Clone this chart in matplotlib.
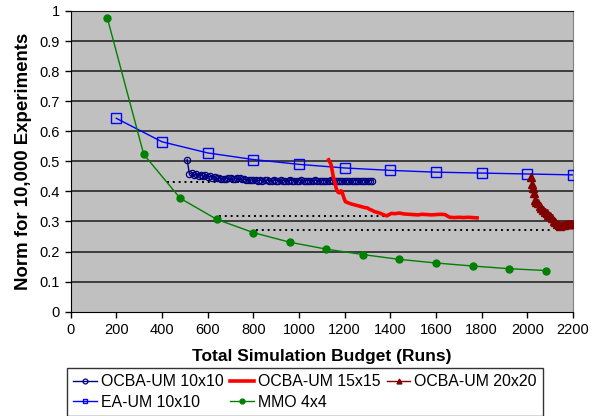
import numpy as np
import matplotlib.pyplot as plt

plt.rcParams['font.family'] = ['Liberation Sans', 'DejaVu Sans']

# OCBA-UM 10x10
ocba10_x = np.arange(510, 1330, 10)
ocba10_y = [
0.506, 0.458, 0.462, 0.456, 0.458, 0.452, 0.455, 0.450, 0.455, 0.449,
0.450, 0.446, 0.447, 0.444, 0.443, 0.442, 0.441, 0.442, 0.445, 0.443,
0.441, 0.442, 0.444, 0.444, 0.441, 0.440, 0.439, 0.438, 0.438, 0.437,
0.437, 0.436, 0.437, 0.436, 0.437, 0.437, 0.436, 0.436, 0.437, 0.436,
0.436, 0.437, 0.436, 0.436, 0.436, 0.437, 0.436, 0.436, 0.436, 0.436,
0.437, 0.436, 0.436, 0.436, 0.436, 0.436, 0.437, 0.436, 0.436, 0.436,
0.436, 0.436, 0.436, 0.437, 0.436, 0.436, 0.436, 0.436, 0.436, 0.436,
0.436, 0.436, 0.436, 0.436, 0.436, 0.436, 0.436, 0.436, 0.436, 0.436,
0.436, 0.436
]

# OCBA-UM 15x15
ocba15_x = [1130, 1140, 1150, 1157, 1163, 1170, 1178, 1183, 1188, 1195,
            1203, 1215, 1230, 1245, 1260, 1275, 1290, 1300, 1310, 1318,
            1330, 1345, 1360, 1375, 1385, 1395, 1405, 1420, 1440, 1460,
            1480, 1500, 1520, 1540, 1560, 1580, 1600, 1620, 1640, 1650,
            1660, 1680, 1700, 1720, 1740, 1760, 1780]
ocba15_y = [0.505, 0.490, 0.450, 0.430, 0.410, 0.398, 0.395, 0.402, 0.400, 0.382,
            0.366, 0.362, 0.358, 0.355, 0.352, 0.349, 0.346, 0.345, 0.340, 0.338,
            0.333, 0.330, 0.326, 0.321, 0.319, 0.323, 0.327, 0.326, 0.328, 0.325,
            0.324, 0.323, 0.322, 0.324, 0.323, 0.322, 0.323, 0.324, 0.323, 0.318,
            0.314, 0.313, 0.314, 0.313, 0.314, 0.313, 0.312]

# OCBA-UM 20x20
ocba20_x = [2018, 2022, 2026, 2030, 2033, 2040, 2048, 2055, 2062, 2070,
            2078, 2085, 2092, 2100, 2108, 2115, 2122, 2130, 2138, 2145,
            2152, 2160, 2168, 2176, 2184, 2192, 2200]
ocba20_y = [0.448, 0.425, 0.410, 0.395, 0.370, 0.365, 0.360, 0.350, 0.345, 0.338,
            0.332, 0.327, 0.322, 0.317, 0.310, 0.303, 0.298, 0.293, 0.288, 0.285,
            0.287, 0.289, 0.290, 0.291, 0.291, 0.292, 0.293]

# EA-UM 10x10
ea_x = np.arange(200, 2201, 200)
ea_y = [0.643, 0.565, 0.528, 0.506, 0.490, 0.478, 0.470, 0.464, 0.461, 0.458, 0.455]

# MMO 4x4
mmo_x = np.arange(160, 2081, 160)
mmo_y = [0.978, 0.523, 0.377, 0.307, 0.263, 0.231, 0.208, 0.190, 0.174, 0.162,
         0.152, 0.143, 0.137]

# dotted reference levels
ref_y = [0.430, 0.317, 0.273]
ref_x0 = [424, 650, 810]
ref_x1 = [800, 1380, 2100]

fig = plt.figure(figsize=(5.97, 4.16), dpi=100)
ax = fig.add_axes([0.1184, 0.2507, 0.8414, 0.7229])
ax.set_facecolor('#C0C0C0')

for y in np.arange(0.1, 1.01, 0.1):
    ax.axhline(y, color='#1a1a1a', linewidth=1.1, zorder=1)

for y, a, b in zip(ref_y, ref_x0, ref_x1):
    ax.plot([a, b], [y, y], color='black', linestyle=(0, (1, 2)), linewidth=1.4, zorder=2)

l1, = ax.plot(ocba10_x, ocba10_y, color='#000080', marker='o', markersize=4.5,
              markerfacecolor='none', markeredgewidth=0.9, linewidth=1.0, zorder=4)
l2, = ax.plot(ocba15_x, ocba15_y, color='#FF0000', linewidth=2.6, zorder=4)
l3, = ax.plot(ocba20_x, ocba20_y, color='#800000', marker='^', markersize=6,
              linewidth=1.0, zorder=4)
l4, = ax.plot(ea_x, ea_y, color='#0000FF', marker='s', markersize=7,
              markerfacecolor='none', markeredgewidth=1.0, linewidth=1.0, zorder=3)
l5, = ax.plot(mmo_x, mmo_y, color='#008000', marker='o', markersize=5,
              linewidth=1.0, zorder=3)

ax.set_xlim(0, 2200)
ax.set_ylim(0, 1)
ax.set_xticks(np.arange(0, 2201, 200))
ax.set_yticks(np.round(np.arange(0, 1.01, 0.1), 1))
ax.set_yticklabels(['0', '0.1', '0.2', '0.3', '0.4', '0.5', '0.6', '0.7', '0.8', '0.9', '1'])
ax.tick_params(direction='out', length=4, width=1, labelsize=10.5, pad=4)

ax.spines['left'].set_color('black')
ax.spines['bottom'].set_color('black')
ax.spines['top'].set_color('#1a1a1a')
ax.spines['right'].set_color('#808080')

ax.set_xlabel('Total Simulation Budget (Runs)', fontsize=12.5, fontweight='bold', labelpad=9)
ax.set_ylabel('Norm for 10,000 Experiments', fontsize=13.4, fontweight='bold', labelpad=5)

leg = fig.legend([l1, l4, l2, l5, l3],
                 ['OCBA-UM 10x10', 'EA-UM 10x10', 'OCBA-UM 15x15', 'MMO 4x4', 'OCBA-UM 20x20'],
                 ncol=3, loc='upper left', bbox_to_anchor=(67 / 597, 1 - 368 / 416),
                 borderaxespad=0, fontsize=11.4, frameon=True, fancybox=False,
                 handlelength=1.5, handletextpad=0.25, columnspacing=0.4,
                 labelspacing=0.35, borderpad=0.4)
leg.get_frame().set_edgecolor('black')
leg.get_frame().set_linewidth(1.0)
for h in leg.legend_handles:
    h.set_markersize(3.5)

fig.savefig('out.png', dpi=100)
